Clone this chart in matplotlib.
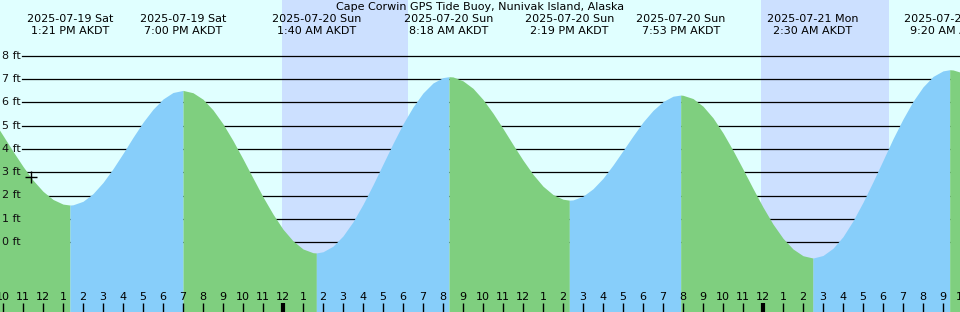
import numpy as np
import matplotlib
matplotlib.use("Agg")
import matplotlib.pyplot as plt
import matplotlib.transforms as mtransforms

# hours relative to 2025-07-20 00:00 AKDT
title = "Cape Corwin GPS Tide Buoy, Nunivak Island, Alaska"

# tide height every half hour, from -15 h to +34 h
level_t = [-15 + 0.5 * i for i in range(99)]
level_ft = [5.86, 5.25, 4.58, 3.90, 3.25, 2.66, 2.18, 1.83, 1.63, 1.60,
            1.75, 2.08, 2.56, 3.15, 3.81, 4.50, 5.15, 5.71, 6.15, 6.43,
            6.52, 6.42, 6.14, 5.68, 5.08, 4.36, 3.57, 2.75, 1.94, 1.20,
            0.55, 0.05, -0.30, -0.46, -0.42, -0.18, 0.26, 0.87, 1.62, 2.46,
            3.35, 4.24, 5.08, 5.81, 6.41, 6.84, 7.07, 7.10, 6.93, 6.61,
            6.13, 5.54, 4.88, 4.19, 3.52, 2.91, 2.40, 2.04, 1.84, 1.81,
            1.97, 2.29, 2.74, 3.31, 3.93, 4.56, 5.16, 5.66, 6.04, 6.27,
            6.31, 6.17, 5.84, 5.34, 4.69, 3.94, 3.13, 2.30, 1.50, 0.77,
            0.16, -0.30, -0.59, -0.69, -0.58, -0.27, 0.23, 0.91, 1.71, 2.59,
            3.51, 4.44, 5.29, 6.05, 6.67, 7.12, 7.36, 7.40, 7.27]

# high / low tides shown on the chart
ext_t = [-10.65, -5.0, 1.667, 8.3, 14.317, 19.883, 26.5, 33.333]
ext_ft = [1.59, 6.52, -0.47, 7.11, 1.80, 6.32, -0.69, 7.41]
ext_date = ["2025-07-19 Sat", "2025-07-19 Sat", "2025-07-20 Sun", "2025-07-20 Sun",
            "2025-07-20 Sun", "2025-07-20 Sun", "2025-07-21 Mon", "2025-07-21 Mon"]
ext_time = ["1:21 PM AKDT", "7:00 PM AKDT", "1:40 AM AKDT", "8:18 AM AKDT",
            "2:19 PM AKDT", "7:53 PM AKDT", "2:30 AM AKDT", "9:20 AM AKDT"]

night = [(-0.05, 6.25), (23.9, 30.3)]
now_t, now_ft = -12.6, 2.78

sky = "#E0FFFF"
night_col = "#CCE0FF"
ebb = "#7FCF7F"
flood = "#87CEFA"

W, H = 960, 312
fig = plt.figure(figsize=(W / 100, H / 100), dpi=100, facecolor=sky)
ax = fig.add_axes([0, 0, 1, 1])
ax.set_facecolor(sky)
x0 = -283 / 20
ax.set_xlim(x0, x0 + W / 20)
ax.set_ylim((242 - H) / 23.25, 242 / 23.25)
ax.axis("off")

def py(p):
    return 1 - p / H

bt = mtransforms.blended_transform_factory(ax.transData, ax.transAxes)
lt = mtransforms.blended_transform_factory(ax.transAxes, ax.transData)

for a, b in night:
    ax.axvspan(a, b, color=night_col, lw=0, zorder=0)

for ft in range(0, 9):
    ax.axhline(ft, xmin=22 / W, xmax=1, color="black", lw=0.9, zorder=1)
    ax.text(2 / W, ft, f"{ft} ft", transform=lt, ha="left", va="center",
            fontsize=8, color="#111111")

# tide curve, green while falling, blue while rising
curve = dict(zip(level_t, level_ft))
for et, ef in zip(ext_t, ext_ft):
    curve[et] = ef
t = np.array(sorted(curve))
h = np.array([curve[k] for k in t])
bottom = ax.get_ylim()[0]
bounds = [t[0]] + ext_t + [t[-1]]
for i in range(len(bounds) - 1):
    a, b = bounds[i], bounds[i + 1]
    m = (t >= a - 1e-9) & (t <= b + 1e-9)
    rising = h[m][-1] > h[m][0]
    ax.fill_between(t[m], bottom, h[m], color=flood if rising else ebb, lw=0, zorder=2)

ax.plot([now_t], [now_ft], marker="+", color="black", ms=8, mew=1, zorder=4)

# labels at top
ax.text(0.5, py(7), title, transform=ax.transAxes, ha="center", va="center", fontsize=8)
for et, d, tm in zip(ext_t, ext_date, ext_time):
    ax.text(et, py(19), d, transform=bt, ha="center", va="center", fontsize=8)
    ax.text(et, py(31), tm, transform=bt, ha="center", va="center", fontsize=8)

# hour ticks
for hr in range(-14, 35):
    lab = (hr % 12) or 12
    ax.text(hr, py(297), str(lab), transform=bt, ha="center", va="center", fontsize=8)
    ax.plot([hr, hr], [py(303), py(312)], transform=bt, color="black",
            lw=3 if hr % 24 == 0 else 1, solid_capstyle="butt", zorder=5)

fig.savefig("out.png", dpi=100, facecolor=sky)
